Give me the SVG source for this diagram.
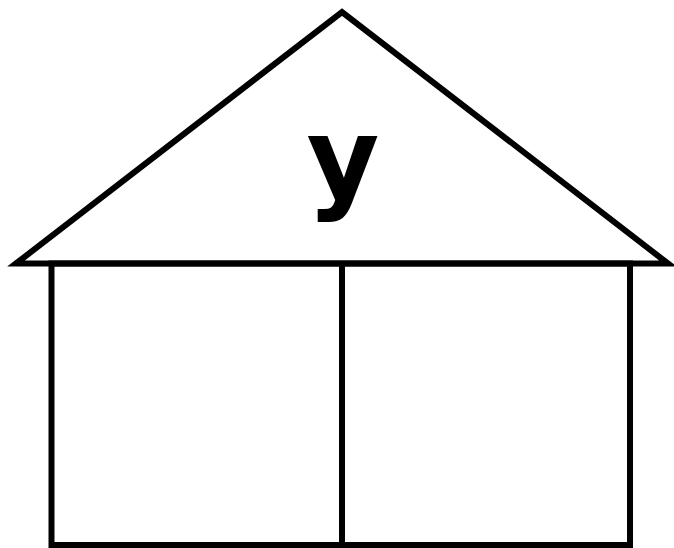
<svg xmlns="http://www.w3.org/2000/svg" width="674" height="548" viewBox="0 0 674 548">
<style>
.s{fill:none;stroke:#000;stroke-width:6;stroke-linejoin:miter;stroke-miterlimit:10}
.t{font-family:"DejaVu Sans",Verdana,sans-serif;font-weight:bold;font-size:112px;fill:#000}
</style>
<rect width="674" height="548" fill="#fff"/>
<g id="roof">
<polygon class="s" points="16,263.5 342,12 668,263.5"/>
<text class="t" x="343" y="198" text-anchor="middle">y</text>
</g>
<g id="left-room">
<polyline class="s" points="342,263.5 51.5,263.5 51.5,545 342,545"/>
</g>
<g id="right-room">
<polyline class="s" points="342,263.5 630,263.5 630,545 342,545"/>
</g>
<g id="connectors">
<line class="s" x1="342" y1="263.5" x2="342" y2="545"/>
</g>
</svg>
